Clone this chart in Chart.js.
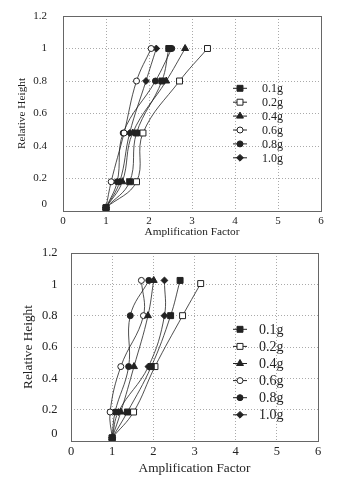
<!DOCTYPE html>
<html>
<head>
<meta charset="utf-8">
<script src="https://cdn.jsdelivr.net/npm/chart.js@4.4.1/dist/chart.umd.min.js"></script>
<style>
  html, body { margin: 0; padding: 0; background: #fff; }
  canvas { display: block; }
</style>
</head>
<body>
<canvas id="topChart" width="345" height="240"></canvas>
<canvas id="bottomChart" width="345" height="240"></canvas>
<script>
// Series labels (input acceleration)
const loadLabels = ['0.1g', '0.2g', '0.4g', '0.6g', '0.8g', '1.0g'];

// Upper chart - relative heights of the measuring points
const topHeights = [0.02, 0.18, 0.48, 0.80, 1.00];
// Upper chart - amplification factors, bottom to top
const topAmp01 = [1.00, 1.55, 1.71, 2.30, 2.46];
const topAmp02 = [1.00, 1.71, 1.86, 2.71, 3.36];
const topAmp04 = [1.00, 1.38, 1.62, 2.40, 2.84];
const topAmp06 = [1.00, 1.12, 1.42, 1.71, 2.05];
const topAmp08 = [1.00, 1.26, 1.40, 2.15, 2.53];
const topAmp10 = [1.00, 1.32, 1.55, 1.93, 2.17];

// Lower chart - relative heights (0.2g top point sits a bit lower)
const bottomHeights = [0.02, 0.185, 0.475, 0.80, 1.025];
const bottomHeights02 = [0.02, 0.185, 0.475, 0.80, 1.005];
// Lower chart - amplification factors
const bottomAmp01 = [1.00, 1.37, 1.95, 2.42, 2.65];
const bottomAmp02 = [1.00, 1.52, 2.04, 2.71, 3.15];
const bottomAmp04 = [1.00, 1.21, 1.53, 1.87, 2.01];
const bottomAmp06 = [1.00, 0.95, 1.21, 1.76, 1.71];
const bottomAmp08 = [1.00, 1.07, 1.40, 1.44, 1.89];
const bottomAmp10 = [1.00, 1.15, 1.88, 2.27, 2.27];

// Axis ranges / tick steps
const xMin = 0, xMax = 6, xStep = 1;
const yMin = 0, yMax = 1.2, yStep = 0.2;

// Marker look per series
const markerStyles = ['rect', 'rect', 'triangle', 'circle', 'circle', 'rectRot'];
const markerFilled = [true, false, true, false, true, true];
const markerRadius = [4.2, 4.2, 4, 3, 3, 3.4];

const FONT = "'Liberation Serif', 'DejaVu Serif', serif";
const INK = '#222';

function toPoints(xs, ys) {
  return xs.map((x, i) => ({ x: x, y: ys[i] }));
}

function buildDatasets(seriesX, seriesY) {
  return loadLabels.map((label, i) => ({
    label: label,
    data: toPoints(seriesX[i], seriesY[i]),
    showLine: true,
    tension: 0.4,
    borderColor: INK,
    borderWidth: 0.8,
    pointStyle: markerStyles[i],
    pointRadius: markerRadius[i],
    pointBorderWidth: 1,
    pointBorderColor: INK,
    pointBackgroundColor: markerFilled[i] ? INK : '#fff'
  }));
}

// Solid frame round the plot area
const frame = {
  id: 'frame',
  afterDatasetsDraw(chart) {
    const a = chart.chartArea, ctx = chart.ctx;
    ctx.save();
    ctx.strokeStyle = '#666';
    ctx.lineWidth = 1;
    ctx.strokeRect(Math.round(a.left) + 0.5, Math.round(a.top) + 0.5,
      Math.round(a.right - a.left), Math.round(a.bottom - a.top));
    ctx.restore();
  }
};

function drawMarker(ctx, style, r, x, y) {
  if (Chart.helpers && Chart.helpers.drawPoint) {
    Chart.helpers.drawPoint(ctx, { pointStyle: style, radius: r, rotation: 0, borderWidth: 1 }, x, y);
  } else {
    ctx.beginPath();
    ctx.arc(x, y, r, 0, Math.PI * 2);
    ctx.fill();
    ctx.stroke();
  }
}

// Legend inside the plot: line segment with marker, then text
const insetLegend = {
  id: 'insetLegend',
  afterDraw(chart, args, opts) {
    const ctx = chart.ctx;
    ctx.save();
    ctx.font = opts.fontSize + 'px ' + FONT;
    ctx.textBaseline = 'middle';
    ctx.textAlign = 'left';
    chart.data.datasets.forEach((ds, i) => {
      const y = opts.y + i * opts.step;
      ctx.strokeStyle = INK;
      ctx.lineWidth = 1;
      ctx.beginPath();
      ctx.moveTo(opts.x - 7, y);
      ctx.lineTo(opts.x + 7, y);
      ctx.stroke();
      ctx.fillStyle = ds.pointBackgroundColor;
      ctx.strokeStyle = INK;
      drawMarker(ctx, ds.pointStyle, ds.pointRadius, opts.x, y);
      ctx.fillStyle = INK;
      ctx.fillText(ds.label, opts.textX, y + 1);
    });
    ctx.restore();
  }
};

// zero label sits a little above its grid line in the original, so give it an empty second line
function fmtY(v) {
  const s = String(Number(v.toFixed(1)));
  return v === 0 ? [s, ''] : s;
}

function makeChart(id, datasets, cfg) {
  return new Chart(document.getElementById(id), {
    type: 'scatter',
    data: { datasets: datasets },
    plugins: [frame, insetLegend],
    options: {
      responsive: false,
      animation: false,
      devicePixelRatio: 1,
      layout: { padding: { left: 0, right: cfg.padRight, top: cfg.padTop, bottom: 0 } },
      plugins: {
        legend: { display: false },
        tooltip: { enabled: false },
        insetLegend: cfg.legend
      },
      scales: {
        x: {
          type: 'linear',
          min: xMin, max: xMax,
          afterFit: s => {
            s.height = cfg.xHeight;
            s.paddingLeft = 0; s.paddingRight = 0;
          },
          border: { display: false, dash: [1, 2] },
          grid: { color: '#aaa', lineWidth: 1, drawTicks: false },
          ticks: { stepSize: xStep, autoSkip: false, maxRotation: 0, padding: cfg.xTickPad, color: INK,
            font: { family: FONT, size: cfg.tickSize } },
          title: { display: true, text: 'Amplification Factor', color: INK,
            font: { family: FONT, size: cfg.titleSize }, padding: { top: 0, bottom: cfg.xTitlePad } }
        },
        y: {
          type: 'linear',
          min: yMin, max: yMax,
          afterFit: s => {
            s.width = cfg.yWidth;
            s.paddingTop = 0; s.paddingBottom = 0;
          },
          border: { display: false, dash: [1, 2] },
          grid: { color: '#aaa', lineWidth: 1, drawTicks: false },
          ticks: { stepSize: yStep, autoSkip: false, padding: cfg.yTickPad, color: INK, callback: fmtY,
            font: { family: FONT, size: cfg.tickSize } },
          title: { display: true, text: 'Relative Height', color: INK,
            font: { family: FONT, size: cfg.titleSize }, padding: { top: cfg.yTitlePad, bottom: 0 } }
        }
      }
    }
  });
}

const topX = [topAmp01, topAmp02, topAmp04, topAmp06, topAmp08, topAmp10];
const topY = loadLabels.map(() => topHeights);
makeChart('topChart', buildDatasets(topX, topY), {
  padRight: 24, padTop: 16, xHeight: 29, yWidth: 63,
  tickSize: 11, titleSize: 11.3, xTickPad: 3.5, xTitlePad: 1.2, yTitlePad: 15, yTickPad: 16,
  legend: { x: 240, textX: 262, y: 88.3, step: 13.9, fontSize: 12 }
});

const bottomX = [bottomAmp01, bottomAmp02, bottomAmp04, bottomAmp06, bottomAmp08, bottomAmp10];
const bottomY = [bottomHeights, bottomHeights02, bottomHeights, bottomHeights, bottomHeights, bottomHeights];
makeChart('bottomChart', buildDatasets(bottomX, bottomY), {
  padRight: 27, padTop: 13, xHeight: 39, yWidth: 71,
  tickSize: 12.5, titleSize: 13.3, xTickPad: 3.5, xTitlePad: 3.7, yTitlePad: 21, yTickPad: 13.4,
  legend: { x: 240, textX: 259, y: 89.3, step: 17.1, fontSize: 14 }
});
</script>
</body>
</html>
